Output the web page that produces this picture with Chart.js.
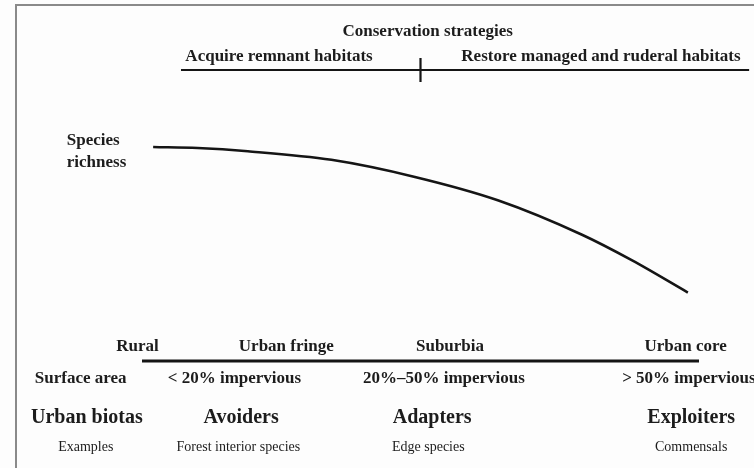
<!DOCTYPE html>
<html>
<head>
<meta charset="utf-8">
<script src="https://cdn.jsdelivr.net/npm/chart.js@4.4.1/dist/chart.umd.min.js"></script>
<style>
  html, body { margin: 0; padding: 0; background: #fdfdfd; }
  #wrap { width: 754px; height: 468px; }
</style>
</head>
<body>
<div id="wrap"><canvas id="chart" width="754" height="468"></canvas></div>
<script>
"use strict";

// gradient position (0 = rural, 100 = urban core) and relative species richness
const gradientX = [2, 10, 19, 34, 49, 64, 79, 88, 98];
const richness = [100, 99.5, 98, 94, 86, 75, 59, 47, 32];

// split between the two conservation strategies along the gradient
const strategySplit = 50;
const strategyLabels = ["Acquire remnant habitats", "Restore managed and ruderal habitats"];

const zoneLabels = ["Rural", "Urban fringe", "Suburbia", "Urban core"];
const surfaceLabels = ["< 20% impervious", "20%\u201350% impervious", "> 50% impervious"];
const biotaLabels = ["Avoiders", "Adapters", "Exploiters"];
const exampleLabels = ["Forest interior species", "Edge species", "Commensals"];

(function() {
  window.addEventListener("load", init);

  const serif = "'Liberation Serif', 'Times New Roman', serif";
  const ink = "#1c1c1c";

  // where the texts sit, in the chart's own units
  const layout = {
    strategyLineY: 136,
    strategyLineFrom: 7,
    strategyLineTo: 109,
    tickHalf: 5.6,
    titleY: 153.7,
    strategyY: 142.1,
    strategyX: [24.6, 82.4],
    richnessX: -13.5,
    richnessY: [102.8, 92.5],
    zoneY: 6.5,
    zoneX: [-0.8, 25.9, 55.3, 97.6],
    surfaceY: -8.4,
    surfaceX: [16.6, 54.2, 98.6],
    biotaY: -26.6,
    biotaX: [17.8, 52.1, 98.6],
    exampleY: -40.2,
    exampleX: [17.3, 51.4, 98.6],
    headX: -10
  };

  function init() {
    let curve = gradientX.map((x, i) => ({x: x, y: richness[i]}));

    const diagramText = {
      id: "diagramText",
      beforeDraw(chart) {
        let ctx = chart.ctx;
        ctx.save();
        ctx.fillStyle = "#fdfdfd";
        ctx.fillRect(0, 0, chart.width, chart.height);
        // frame (left and top edges only, the rest is cut off)
        ctx.strokeStyle = "#8a8a8a";
        ctx.lineWidth = 2;
        ctx.beginPath();
        ctx.moveTo(16, chart.height);
        ctx.lineTo(16, 5);
        ctx.lineTo(chart.width, 5);
        ctx.stroke();
        ctx.restore();
      },
      afterDatasetsDraw(chart) {
        let ctx = chart.ctx;
        let xs = chart.scales.x;
        let ys = chart.scales.y;
        let px = v => xs.getPixelForValue(v);
        let py = v => ys.getPixelForValue(v);

        function put(txt, x, y, size, bold, align) {
          ctx.font = (bold ? "bold " : "") + size + "px " + serif;
          ctx.textAlign = align || "center";
          ctx.textBaseline = "middle";
          ctx.fillText(txt, px(x), py(y));
        }

        ctx.save();
        ctx.fillStyle = ink;

        put("Conservation strategies", (layout.strategyX[0] + layout.strategyX[1]) / 2 - 2.2, layout.titleY, 17, true);
        strategyLabels.forEach((t, i) => put(t, layout.strategyX[i], layout.strategyY, 17, true));

        put("Species", layout.richnessX, layout.richnessY[0], 17, true, "left");
        put("richness", layout.richnessX, layout.richnessY[1], 17, true, "left");

        zoneLabels.forEach((t, i) => put(t, layout.zoneX[i], layout.zoneY, 17, true));

        put("Surface area", layout.headX - 1, layout.surfaceY, 17, true);
        surfaceLabels.forEach((t, i) => {
          if (i === 2) {
            put(t, 86.2, layout.surfaceY, 17, true, "left");
          } else {
            put(t, layout.surfaceX[i], layout.surfaceY, 17, true);
          }
        });

        put("Urban biotas", layout.headX + 0.1, layout.biotaY, 20, true);
        biotaLabels.forEach((t, i) => put(t, layout.biotaX[i], layout.biotaY, 20, true));

        put("Examples", layout.headX - 0.1, layout.exampleY, 14, false);
        exampleLabels.forEach((t, i) => put(t, layout.exampleX[i], layout.exampleY, 14, false));

        ctx.restore();
      }
    };

    let lineStyle = {
      borderColor: "#151515",
      pointRadius: 0,
      fill: false,
      clip: false
    };

    new Chart(id("chart"), {
      type: "line",
      data: {
        datasets: [
          Object.assign({
            label: "Species richness",
            data: curve,
            borderWidth: 2.6,
            tension: 0.4,
            cubicInterpolationMode: "monotone"
          }, lineStyle),
          Object.assign({
            label: "Urban gradient",
            data: [{x: 0, y: 0}, {x: 100, y: 0}],
            borderWidth: 3
          }, lineStyle),
          Object.assign({
            label: "Strategies",
            data: [{x: layout.strategyLineFrom, y: layout.strategyLineY},
                   {x: layout.strategyLineTo, y: layout.strategyLineY}],
            borderWidth: 2
          }, lineStyle),
          Object.assign({
            label: "Split",
            data: [{x: strategySplit, y: layout.strategyLineY + layout.tickHalf},
                   {x: strategySplit, y: layout.strategyLineY - layout.tickHalf}],
            borderWidth: 2.2
          }, lineStyle)
        ]
      },
      options: {
        responsive: false,
        animation: false,
        layout: {
          padding: {left: 142, right: 55, top: 147, bottom: 107}
        },
        scales: {
          x: {type: "linear", min: 0, max: 100, display: false},
          y: {type: "linear", min: 0, max: 100, display: false}
        },
        plugins: {
          legend: {display: false},
          tooltip: {enabled: false}
        }
      },
      plugins: [diagramText]
    });
  }

  function id(name) {
    return document.getElementById(name);
  }
})();
</script>
</body>
</html>
